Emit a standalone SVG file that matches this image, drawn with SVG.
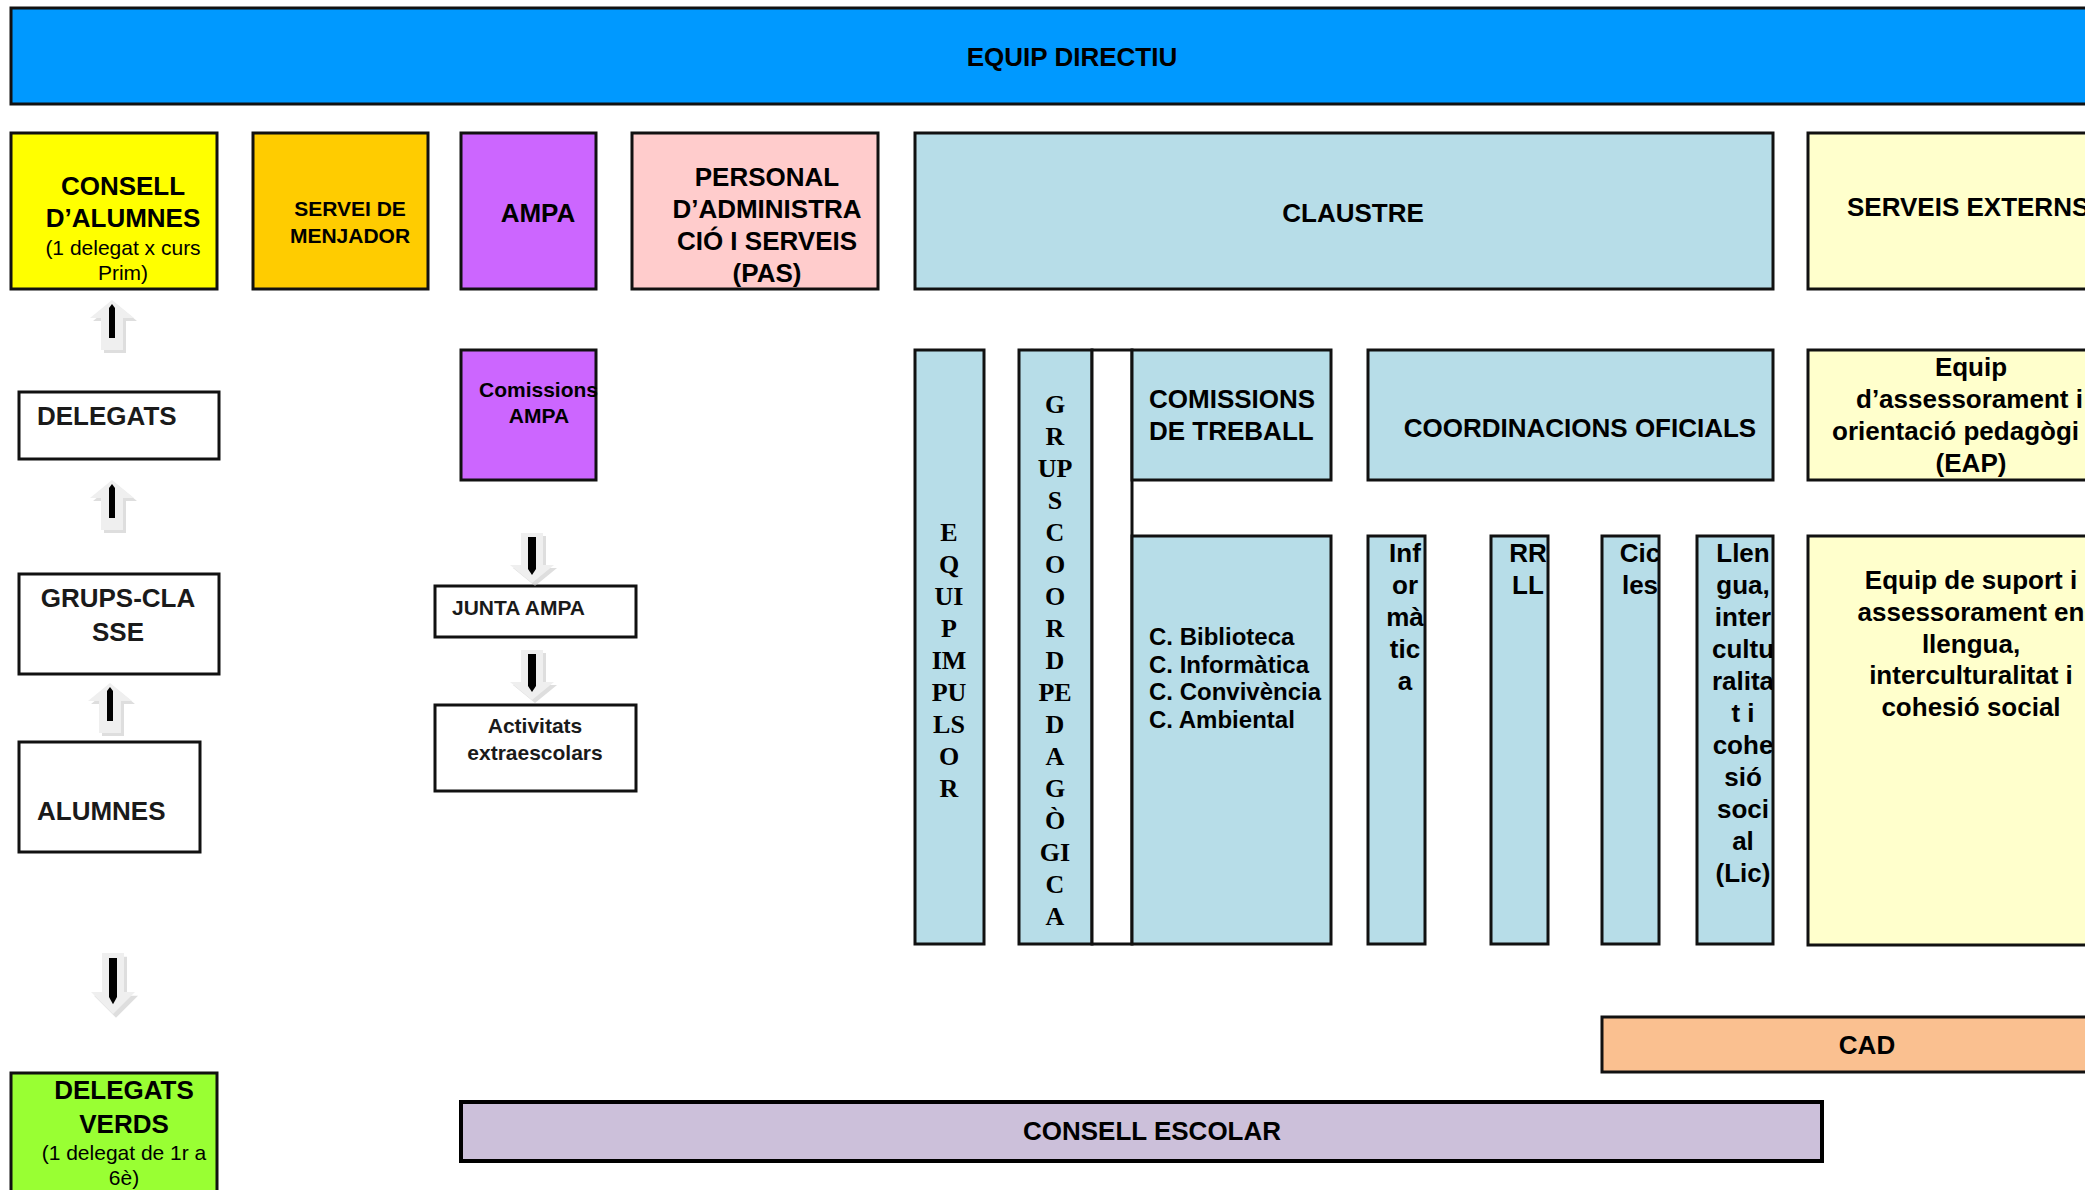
<svg xmlns="http://www.w3.org/2000/svg" xmlns:xlink="http://www.w3.org/1999/xlink" width="2085" height="1190" viewBox="0 0 2085 1190">
<style>
.b{stroke:#111;stroke-width:3}
.t{font-family:"Liberation Sans",Arial,sans-serif;font-weight:bold;font-size:26px;fill:#000}
.t21{font-size:21px}
.t24{font-size:24px}
.reg{font-weight:normal}
.s{font-family:"Liberation Serif","Times New Roman",serif;font-weight:bold;font-size:26px;fill:#000}
.m{text-anchor:middle}
.g{fill:#1a1a1a}
.blue{fill:#B7DDE8}
</style>
<defs>
<g id="arrowUp">
<polygon points="3,3 25,21 14,21 14,53 -8,53 -8,21 -19,21" fill="#c8c8c8" opacity="0.6"/>
<polygon points="0,0 22,18 11,18 11,50 -11,50 -11,18 -22,18" fill="#efefef"/>
<polygon points="0,4 3,8 3,38 -3,38 -3,8" fill="#000"/>
</g>
<g id="arrowDown">
<polygon points="3,3 14,3 14,35 25,35 3,53 -19,35 -8,35 -8,3" fill="#c8c8c8" opacity="0.6"/>
<polygon points="-11,0 11,0 11,32 22,32 0,50 -22,32 -11,32" fill="#efefef"/>
<polygon points="-4,4 4,4 4,36 0,42 -4,36" fill="#000"/>
</g>
<clipPath id="cInf"><rect x="1369" y="537" width="55" height="406"/></clipPath>
<clipPath id="cRR"><rect x="1492" y="537" width="55" height="406"/></clipPath>
<clipPath id="cCic"><rect x="1603" y="537" width="55" height="406"/></clipPath>
<clipPath id="cLl"><rect x="1698" y="537" width="74" height="406"/></clipPath>
</defs>
<rect width="2085" height="1190" fill="#fff"/>

<g id="equip-directiu">
<rect class="b" x="11" y="8" width="2100" height="96" fill="#0099FF"/>
<text class="t m" x="1072" y="66">EQUIP DIRECTIU</text>
</g>

<g id="consell-alumnes">
<rect class="b" x="11" y="133" width="206" height="156" fill="#FFFF00"/>
<text class="t m" x="123" y="195">CONSELL</text>
<text class="t m" x="123" y="227">D’ALUMNES</text>
<text class="t t21 reg m" x="123" y="255">(1 delegat x curs</text>
<text class="t t21 reg m" x="123" y="280">Prim)</text>
</g>

<g id="servei-menjador">
<rect class="b" x="253" y="133" width="175" height="156" fill="#FFCC00"/>
<text class="t t21 m" x="350" y="216">SERVEI DE</text>
<text class="t t21 m" x="350" y="243">MENJADOR</text>
</g>

<g id="ampa">
<rect class="b" x="461" y="133" width="135" height="156" fill="#CC66FF"/>
<text class="t m" x="538" y="222">AMPA</text>
</g>

<g id="pas">
<rect class="b" x="632" y="133" width="246" height="156" fill="#FFCCCC"/>
<text class="t m" x="767" y="186">PERSONAL</text>
<text class="t m" x="767" y="218">D’ADMINISTRA</text>
<text class="t m" x="767" y="250">CIÓ I SERVEIS</text>
<text class="t m" x="767" y="282">(PAS)</text>
</g>

<g id="claustre">
<rect class="b blue" x="915" y="133" width="858" height="156"/>
<text class="t m" x="1353" y="222">CLAUSTRE</text>
</g>

<g id="serveis-externs">
<rect class="b" x="1808" y="133" width="300" height="156" fill="#FFFFCC"/>
<text class="t" x="1847" y="216">SERVEIS EXTERNS</text>
</g>

<g id="eap">
<rect class="b" x="1808" y="350" width="300" height="130" fill="#FFFFCC"/>
<text class="t m" x="1971" y="376">Equip</text>
<text class="t" x="1856" y="408">d’assessorament i</text>
<text class="t" x="1832" y="440">orientació pedagògi</text>
<text class="t m" x="1971" y="472">(EAP)</text>
</g>

<g id="equip-suport">
<rect class="b" x="1808" y="536" width="300" height="409" fill="#FFFFCC"/>
<text class="t m" x="1971" y="589">Equip de suport i</text>
<text class="t m" x="1971" y="621">assessorament en</text>
<text class="t m" x="1971" y="653">llengua,</text>
<text class="t m" x="1971" y="684">interculturalitat i</text>
<text class="t m" x="1971" y="716">cohesió social</text>
</g>

<g id="cad">
<rect class="b" x="1602" y="1017" width="500" height="55" fill="#FAC090"/>
<text class="t m" x="1867" y="1054">CAD</text>
</g>

<g id="consell-escolar">
<rect x="461" y="1102" width="1361" height="59" fill="#CCC0DA" stroke="#000" stroke-width="4"/>
<text class="t m" x="1152" y="1140">CONSELL ESCOLAR</text>
</g>

<g id="delegats-verds">
<rect class="b" x="11" y="1073" width="206" height="140" fill="#99FF33"/>
<text class="t m" x="124" y="1099">DELEGATS</text>
<text class="t m" x="124" y="1133">VERDS</text>
<text class="t t21 reg m" x="124" y="1160">(1 delegat de 1r a</text>
<text class="t t21 reg m" x="124" y="1185">6è)</text>
</g>

<g id="delegats">
<rect class="b" x="19" y="392" width="200" height="67" fill="#fff"/>
<text class="t g" x="37" y="425">DELEGATS</text>
</g>

<g id="grups-classe">
<rect class="b" x="19" y="574" width="200" height="100" fill="#fff"/>
<text class="t g m" x="118" y="607">GRUPS-CLA</text>
<text class="t g m" x="118" y="641">SSE</text>
</g>

<g id="alumnes">
<rect class="b" x="19" y="742" width="181" height="110" fill="#fff"/>
<text class="t g" x="37" y="820">ALUMNES</text>
</g>

<g id="comissions-ampa">
<rect class="b" x="461" y="350" width="135" height="130" fill="#CC66FF"/>
<text class="t t21" x="479" y="397">Comissions</text>
<text class="t t21 m" x="539" y="423">AMPA</text>
</g>

<g id="junta-ampa">
<rect class="b" x="435" y="586" width="201" height="51" fill="#fff"/>
<text class="t t21 g" x="452" y="615">JUNTA AMPA</text>
</g>

<g id="activitats">
<rect class="b" x="435" y="705" width="201" height="86" fill="#fff"/>
<text class="t t21 g m" x="535" y="733">Activitats</text>
<text class="t t21 g m" x="535" y="760">extraescolars</text>
</g>

<g id="equip-impulsor">
<rect class="b blue" x="915" y="350" width="69" height="594"/>
<g class="s m">
<text x="949" y="541">E</text>
<text x="949" y="573">Q</text>
<text x="949" y="605">UI</text>
<text x="949" y="637">P</text>
<text x="949" y="669">IM</text>
<text x="949" y="701">PU</text>
<text x="949" y="733">LS</text>
<text x="949" y="765">O</text>
<text x="949" y="797">R</text>
</g>
</g>

<g id="grups-coord">
<rect class="b blue" x="1019" y="350" width="73" height="594"/>
<g class="s m">
<text x="1055" y="413">G</text>
<text x="1055" y="445">R</text>
<text x="1055" y="477">UP</text>
<text x="1055" y="509">S</text>
<text x="1055" y="541">C</text>
<text x="1055" y="573">O</text>
<text x="1055" y="605">O</text>
<text x="1055" y="637">R</text>
<text x="1055" y="669">D</text>
<text x="1055" y="701">PE</text>
<text x="1055" y="733">D</text>
<text x="1055" y="765">A</text>
<text x="1055" y="797">G</text>
<text x="1055" y="829">Ò</text>
<text x="1055" y="861">GI</text>
<text x="1055" y="893">C</text>
<text x="1055" y="925">A</text>
</g>
</g>

<g id="gap">
<rect class="b" x="1092" y="350" width="40" height="594" fill="#fff"/>
</g>

<g id="comissions-treball">
<rect class="b blue" x="1132" y="350" width="199" height="130"/>
<text class="t" x="1149" y="408">COMISSIONS</text>
<text class="t" x="1149" y="440">DE TREBALL</text>
</g>

<g id="comissions-llista">
<rect class="b blue" x="1132" y="536" width="199" height="408"/>
<text class="t t24" x="1149" y="645">C. Biblioteca</text>
<text class="t t24" x="1149" y="673">C. Informàtica</text>
<text class="t t24" x="1149" y="700">C. Convivència</text>
<text class="t t24" x="1149" y="728">C. Ambiental</text>
</g>

<g id="coordinacions">
<rect class="b blue" x="1368" y="350" width="405" height="130"/>
<text class="t m" x="1580" y="437">COORDINACIONS OFICIALS</text>
</g>

<g id="informatica">
<rect class="b blue" x="1368" y="536" width="57" height="408"/>
<g clip-path="url(#cInf)" class="t m">
<text x="1405" y="562">Inf</text>
<text x="1405" y="594">or</text>
<text x="1405" y="626">mà</text>
<text x="1405" y="658">tic</text>
<text x="1405" y="690">a</text>
</g>
</g>

<g id="rrll">
<rect class="b blue" x="1491" y="536" width="57" height="408"/>
<g clip-path="url(#cRR)" class="t m">
<text x="1528" y="562">RR</text>
<text x="1528" y="594">LL</text>
</g>
</g>

<g id="cicles">
<rect class="b blue" x="1602" y="536" width="57" height="408"/>
<g clip-path="url(#cCic)" class="t m">
<text x="1640" y="562">Cic</text>
<text x="1640" y="594">les</text>
</g>
</g>

<g id="llengua">
<rect class="b blue" x="1697" y="536" width="76" height="408"/>
<g clip-path="url(#cLl)" class="t m">
<text x="1743" y="562">Llen</text>
<text x="1743" y="594">gua,</text>
<text x="1743" y="626">inter</text>
<text x="1743" y="658">cultu</text>
<text x="1743" y="690">ralita</text>
<text x="1743" y="722">t i</text>
<text x="1743" y="754">cohe</text>
<text x="1743" y="786">sió</text>
<text x="1743" y="818">soci</text>
<text x="1743" y="850">al</text>
<text x="1743" y="882">(Lic)</text>
</g>
</g>

<g id="connectors">
<use xlink:href="#arrowUp" transform="translate(112,300)"/>
<use xlink:href="#arrowUp" transform="translate(112,480)"/>
<use xlink:href="#arrowUp" transform="translate(110,683)"/>
<use xlink:href="#arrowDown" transform="translate(113,953) scale(1,1.22)"/>
<use xlink:href="#arrowDown" transform="translate(532,533)"/>
<use xlink:href="#arrowDown" transform="translate(532,650)"/>
</g>
</svg>
